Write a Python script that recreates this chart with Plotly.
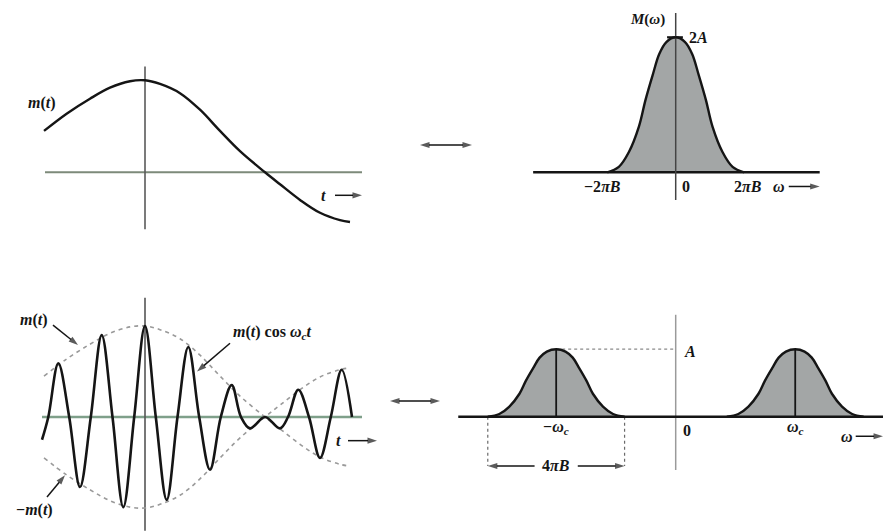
import plotly.graph_objects as go

# ---------------- data ----------------
# message m(t) (normalised so that m(0) = 1), t in arbitrary units
t_msg = [-1.01, -0.78, -0.55, -0.35, -0.15, 0.0, 0.15, 0.35, 0.55, 0.75, 0.95, 1.2, 1.35, 1.55, 1.75, 1.95, 2.05]
m_msg = [0.45, 0.64, 0.80, 0.92, 0.99, 1.0, 0.96, 0.86, 0.68, 0.45, 0.23, 0.0, -0.13, -0.30, -0.44, -0.52, -0.54]

# modulated signal m(t) cos(wc t): extrema and zero crossings
t_mod = [-1.03, -0.967, -0.867, -0.758, -0.65, -0.542, -0.433, -0.325, -0.217, -0.108, 0.0,
         0.108, 0.217, 0.325, 0.433, 0.542, 0.65, 0.758, 0.867, 0.96, 1.05, 1.2, 1.35, 1.43,
         1.533, 1.64, 1.75, 1.858, 1.967, 2.07]
v_mod = [-0.25, 0.0, 0.59, 0.0, -0.77, 0.0, 0.90, 0.0, -0.99, 0.0, 1.0,
         0.0, -0.91, 0.0, 0.77, 0.0, -0.58, 0.0, 0.35, 0.0, -0.125, 0.0, -0.125, 0.0,
         0.30, 0.0, -0.45, 0.0, 0.52, 0.0]

# spectrum M(w) (w in units of 2*pi*B, M in units of A)
w_spec = [-0.95, -0.79, -0.65, -0.51, -0.42, -0.32, -0.23, -0.13, 0.0, 0.13, 0.23, 0.32, 0.42, 0.51, 0.65, 0.79, 0.95]
M_spec = [0.0, 0.08, 0.30, 0.68, 1.07, 1.44, 1.75, 1.93, 2.0, 1.93, 1.75, 1.44, 1.07, 0.68, 0.30, 0.08, 0.0]
WC = 1.66  # carrier frequency (same units)

# ---------------- layout helpers ----------------
W, H = 883, 531
SERIF = "Liberation Serif, Times New Roman, serif"
INK = "#151515"
FILL = "#a3a6a6"
FS = 16


def panel(px_l, px_r, px_t, px_b, ox, oy, sx, sy):
    xa = dict(domain=[px_l / W, px_r / W], range=[(px_l - ox) / sx, (px_r - ox) / sx],
              visible=False, fixedrange=True)
    ya = dict(domain=[1 - px_b / H, 1 - px_t / H], range=[(oy - px_b) / sy, (oy - px_t) / sy],
              visible=False, fixedrange=True)
    return xa, ya


x1, y1 = panel(0, 420, 40, 262, 145, 172.3, 100, 92)
x2, y2 = panel(480, 883, 0, 262, 675.7, 172.3, 72, 67.5)
x3, y3 = panel(0, 386, 286, 531, 145, 417, 100, 91)
x4, y4 = panel(446, 883, 290, 531, 675.7, 416.7, 72, 67.5)
x5, y5 = panel(0, W, 0, H, 0, 0, 1, -1)  # page overlay (y measured downward) for the transform-pair arrows
for i, (xa, ya) in enumerate([(x1, y1), (x2, y2), (x3, y3), (x4, y4), (x5, y5)], start=1):
    s = "" if i == 1 else str(i)
    xa.update(anchor="y" + s)
    ya.update(anchor="x" + s)

fig = go.Figure()


def curve(x, y, xa, ya, **line):
    fig.add_trace(go.Scatter(x=x, y=y, mode="lines", line=line, xaxis=xa, yaxis=ya, hoverinfo="skip"))


# panel 1: m(t)
curve(t_msg, m_msg, "x", "y", color=INK, width=2.4, shape="spline")

# panel 2: M(w)
fig.add_trace(go.Scatter(x=w_spec, y=M_spec, mode="lines", fill="tozeroy", fillcolor=FILL,
                         line=dict(color=INK, width=2.4, shape="spline"), xaxis="x2", yaxis="y2",
                         hoverinfo="skip"))

# panel 3: envelopes and modulated signal
curve(t_msg, m_msg, "x3", "y3", color="#9a9a9a", width=1.6, dash="4px,4px", shape="spline")
curve(t_msg, [-v for v in m_msg], "x3", "y3", color="#9a9a9a", width=1.6, dash="4px,4px", shape="spline")

# panel 4: shifted half-height spectra
for sgn in (-1, 1):
    fig.add_trace(go.Scatter(x=[w + sgn * WC for w in w_spec], y=[m / 2 for m in M_spec], mode="lines",
                             fill="tozeroy", fillcolor=FILL,
                             line=dict(color=INK, width=2.4, shape="spline"), xaxis="x4", yaxis="y4",
                             hoverinfo="skip"))

shapes = []


def seg(xr, yr, xa, ya, xb, yb, color, width, dash="solid"):
    shapes.append(dict(type="line", xref=xr, yref=yr, x0=xa, y0=ya, x1=xb, y1=yb, layer="below",
                       line=dict(color=color, width=width, dash=dash)))


# axes panel 1
seg("x", "y", -1.0, 0, 2.17, 0, "#7d8a7a", 2)
seg("x", "y", 0, 1.15, 0, -0.62, "#5a5a5a", 1.6)
# axes panel 3
seg("x3", "y3", -1.03, 0, 2.17, 0, "#7fa08a", 2.6)
seg("x3", "y3", 0, 1.31, 0, -1.25, "#555555", 1.6)
# panel 4 guides (below)
seg("x4", "y4", 0, 1.51, 0, -0.79, "#9a9a9a", 1.5)
seg("x4", "y4", -WC, 1.0, 0, 1.0, "#8a8a8a", 1.2, "dot")
edge = max(w_spec)
seg("x4", "y4", -WC - edge, 0, -WC - edge, -0.73, "#6a6a6a", 1.2, "dot")
seg("x4", "y4", -WC + edge, 0, -WC + edge, -0.73, "#6a6a6a", 1.2, "dot")

# lines drawn above the fills
for xr, yr, xa, ya, xb, yb, c, w in [
    ("x2", "y2", -1.98, 0, 2.0, 0, INK, 2.4),
    ("x2", "y2", 0, 2.36, 0, -0.41, "#444444", 1.5),
    ("x2", "y2", -0.12, 2.0, 0.1, 2.0, INK, 2.2),
    ("x4", "y4", -3.02, 0, 2.88, 0, INK, 2.4),
    ("x4", "y4", -WC, 0, -WC, 1.0, INK, 1.8),
    ("x4", "y4", WC, 0, WC, 1.0, INK, 1.8),
]:
    shapes.append(dict(type="line", xref=xr, yref=yr, x0=xa, y0=ya, x1=xb, y1=yb, layer="above",
                       line=dict(color=c, width=w)))

# modulated signal drawn after the envelopes
curve(t_mod, v_mod, "x3", "y3", color=INK, width=2.6, shape="spline")

ann = []


def text(xr, yr, x, y, s, size=FS, xanchor="center"):
    ann.append(dict(xref=xr, yref=yr, x=x, y=y, text=s, showarrow=False, xanchor=xanchor,
                    yanchor="middle", font=dict(family=SERIF, size=size, color=INK)))


def arrow(xa, ya, xt, yt, xh, yh, width=1.5, size=10):
    fig.add_trace(go.Scatter(x=[xt, xh], y=[yt, yh], mode="lines+markers", xaxis=xa, yaxis=ya,
                             line=dict(color=INK, width=width), hoverinfo="skip",
                             marker=dict(symbol="arrow", size=[0, size], angleref="previous",
                                         color=INK, line=dict(width=0))))


# panel 1 text
text("x", "y", -1.03, 0.75, "<b><i>m</i>(<i>t</i>)</b>")
text("x", "y", 1.78, -0.25, "<b><i>t</i></b>")
arrow("x", "y", 1.9, -0.25, 2.17, -0.25)

# panel 2 text
text("x2", "y2", -0.385, 2.26, "<b><i>M</i>(<i>ω</i>)</b>", 15)
text("x2", "y2", 0.16, 2.0, "<b>2<i>A</i></b>", FS, "left")
text("x2", "y2", -1.02, -0.21, "<b>−2<i>πB</i></b>")
text("x2", "y2", 0.14, -0.21, "<b>0</b>")
text("x2", "y2", 1.0, -0.21, "<b>2<i>πB</i></b>")
text("x2", "y2", 1.44, -0.21, "<b><i>ω</i></b>")
arrow("x2", "y2", 1.57, -0.21, 2.0, -0.21)

# panel 3 text
text("x3", "y3", -1.11, 1.07, "<b><i>m</i>(<i>t</i>)</b>")
arrow("x3", "y3", -0.92, 1.01, -0.67, 0.79)
text("x3", "y3", 1.27, 0.93, "<b><i>m</i>(<i>t</i>) cos <i>ω<sub>c</sub>t</i></b>")
arrow("x3", "y3", 0.85, 0.81, 0.52, 0.50)
text("x3", "y3", -1.11, -1.02, "<b>−<i>m</i>(<i>t</i>)</b>")
arrow("x3", "y3", -0.98, -0.88, -0.80, -0.64)
text("x3", "y3", 1.93, -0.26, "<b><i>t</i></b>")
arrow("x3", "y3", 2.03, -0.26, 2.32, -0.26)

# panel 4 text
text("x4", "y4", -WC, -0.16, "<b>−<i>ω<sub>c</sub></i></b>")
text("x4", "y4", 0.15, -0.2, "<b>0</b>")
text("x4", "y4", WC, -0.16, "<b><i>ω<sub>c</sub></i></b>")
text("x4", "y4", 0.09, 0.96, "<b><i>A</i></b>", FS, "left")
text("x4", "y4", -WC, -0.73, "<b>4<i>πB</i></b>")
arrow("x4", "y4", -WC - 0.3, -0.73, -WC - edge, -0.73)
arrow("x4", "y4", -WC + 0.3, -0.73, -WC + edge, -0.73)
text("x4", "y4", 2.38, -0.29, "<b><i>ω</i></b>")
arrow("x4", "y4", 2.5, -0.29, 2.88, -0.29)

# transform-pair double arrows (page overlay)
for (xl, xr_, yp) in [(420, 472, 145), (390, 440, 401)]:
    mid = (xl + xr_) / 2
    arrow("x5", "y5", mid, yp, xl, yp)
    arrow("x5", "y5", mid, yp, xr_, yp)

fig.update_layout(
    width=W, height=H, margin=dict(l=0, r=0, t=0, b=0),
    paper_bgcolor="white", plot_bgcolor="rgba(0,0,0,0)", showlegend=False,
    xaxis=x1, yaxis=y1, xaxis2=x2, yaxis2=y2, xaxis3=x3, yaxis3=y3, xaxis4=x4, yaxis4=y4,
    xaxis5=x5, yaxis5=y5,
    shapes=shapes, annotations=ann,
)

fig.write_html("out.html", config={"displayModeBar": False})
